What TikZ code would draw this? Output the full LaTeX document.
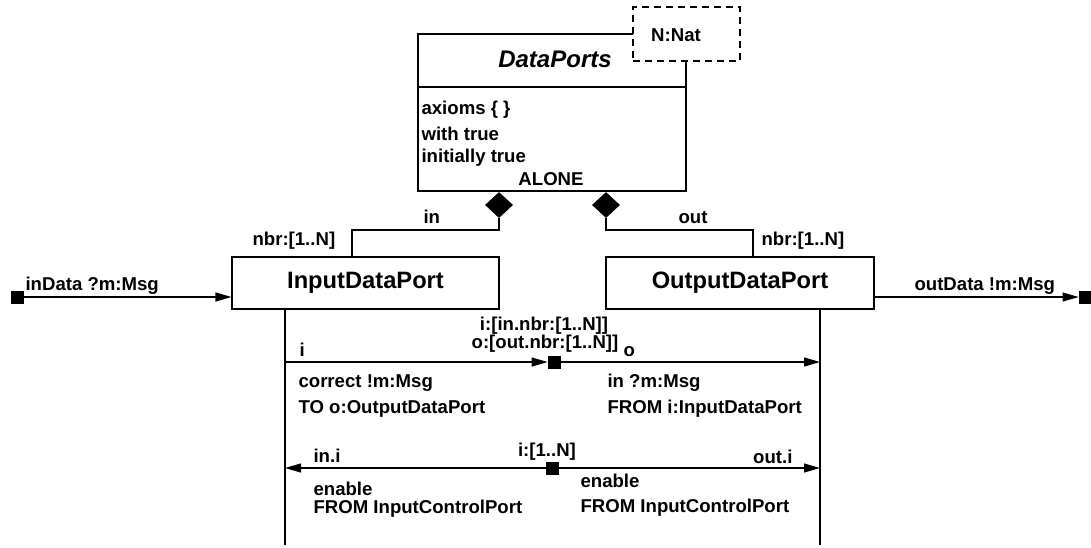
\documentclass[tikz,border=0pt]{standalone}
\usepackage{fontspec}
\setmainfont{Liberation Sans}
\usetikzlibrary{arrows.meta,shapes.geometric}
\begin{document}
\begin{tikzpicture}[x=1pt,y=-1pt, line width=1.1pt,
  font=\bfseries\fontsize{18.6}{22}\selectfont,
  box/.style={draw, rectangle, inner sep=0pt},
  bigtext/.style={font=\bfseries\fontsize{23.7}{28}\selectfont},
  lbl/.style={anchor=base west, inner sep=0pt},
  lblc/.style={anchor=base, inner sep=0pt},
  lble/.style={anchor=base east, inner sep=0pt},
  port/.style={draw, fill=black, rectangle, minimum size=12pt, inner sep=0pt, line width=0.8pt},
  arr/.style={-{Triangle[length=16pt,width=9pt]}},
  comp/.style={draw, fill=black, diamond, minimum width=27pt, minimum height=25pt, inner sep=0pt, line width=0.8pt},
  param/.style={draw, dash pattern=on 7pt off 5pt, fill=white, rectangle, inner sep=0pt}
]
\useasboundingbox (0,0) rectangle (1091,547);

% DataPorts class
\node[box, minimum width=268pt, minimum height=157pt] (dp) at (552,112.5) {};
\coordinate (divy) at (0,87);
\draw (dp.west |- divy) -- (dp.east |- divy);
\node[lblc, font=\bfseries\itshape\fontsize{24}{28}\selectfont] (title) at (555,67.5) {DataPorts};
\node[param, minimum width=107pt, minimum height=54pt] (par) at (686.5,34) {};
\node[lblc] (nat) at (676,41) {N:Nat};
\node[lbl] (ax) at (421,114) {axioms \{ \}};
\node[lbl] (wt) at (421,140) {with true};
\node[lbl] (it) at (421,162) {initially true};
\node[lblc] (alone) at (551,185) {ALONE};

% composition diamonds
\node[comp] (dl) at (499,205) {};
\node[comp] (dr) at (606,205) {};

% port classes
\node[box, bigtext, minimum width=267pt, minimum height=52pt] (idp) at (365.5,283) {InputDataPort};
\node[box, bigtext, minimum width=268pt, minimum height=52pt] (odp) at (740,283) {OutputDataPort};

\coordinate (kin) at (352,230);
\coordinate (kout) at (753,230);
\draw (dl.south) |- (kin) -- (kin |- idp.north);
\draw (dr.south) |- (kout) -- (kout |- odp.north);
\node[lbl] (lin) at (423,223) {in};
\node[lbl] (lout) at (678,223) {out};
\node[lbl] (nbri) at (252,245) {nbr:[1..N]};
\node[lbl] (nbro) at (761,245) {nbr:[1..N]};

% environment ports
\node[port] (inp) at (17,297) {};
\node[port] (outp) at (1085,297) {};
\draw[arr] (inp.east) -- (idp.west |- inp);
\draw[arr] (odp.east |- outp) -- (outp.west);
\node[lbl] (indata) at (25,290) {inData ?m:Msg};
\node[lbl] (outdata) at (914,290) {outData !m:Msg};

% lifelines
\coordinate (lli) at (285,545);
\coordinate (llo) at (820,545);
\draw (idp.south -| lli) -- (lli);
\draw (odp.south -| llo) -- (llo);

% data connection
\node[port] (sq1) at (554,362) {};
\draw[arr] (lli |- sq1) -- (sq1.west);
\draw[arr] (sq1.east) -- (llo |- sq1);
\node[lbl] (li) at (299,356) {i};
\node[lbl] (lo) at (623,356) {o};
\node[lblc] (ir) at (544,330) {i:[in.nbr:[1..N]]};
\node[lblc] (or) at (545,348) {o:[out.nbr:[1..N]]};
\node[lbl] (c1) at (298,387) {correct !m:Msg};
\node[lbl] (c2) at (298,413) {TO o:OutputDataPort};
\node[lbl] (c3) at (607,387) {in ?m:Msg};
\node[lbl] (c4) at (607,413) {FROM i:InputDataPort};

% control connection
\node[port] (sq2) at (552,468) {};
\draw[arr] (sq2.west) -- (lli |- sq2);
\draw[arr] (sq2.east) -- (llo |- sq2);
\node[lbl] (ini) at (313,462) {in.i};
\node[lblc] (ir2) at (547,456) {i:[1..N]};
\node[lble] (outi) at (793,463) {out.i};
\node[lbl] (e1) at (313,495) {enable};
\node[lbl] (f1) at (313,513) {FROM InputControlPort};
\node[lbl] (e2) at (580,487) {enable};
\node[lbl] (f2) at (580,512) {FROM InputControlPort};
\end{tikzpicture}
\end{document}
